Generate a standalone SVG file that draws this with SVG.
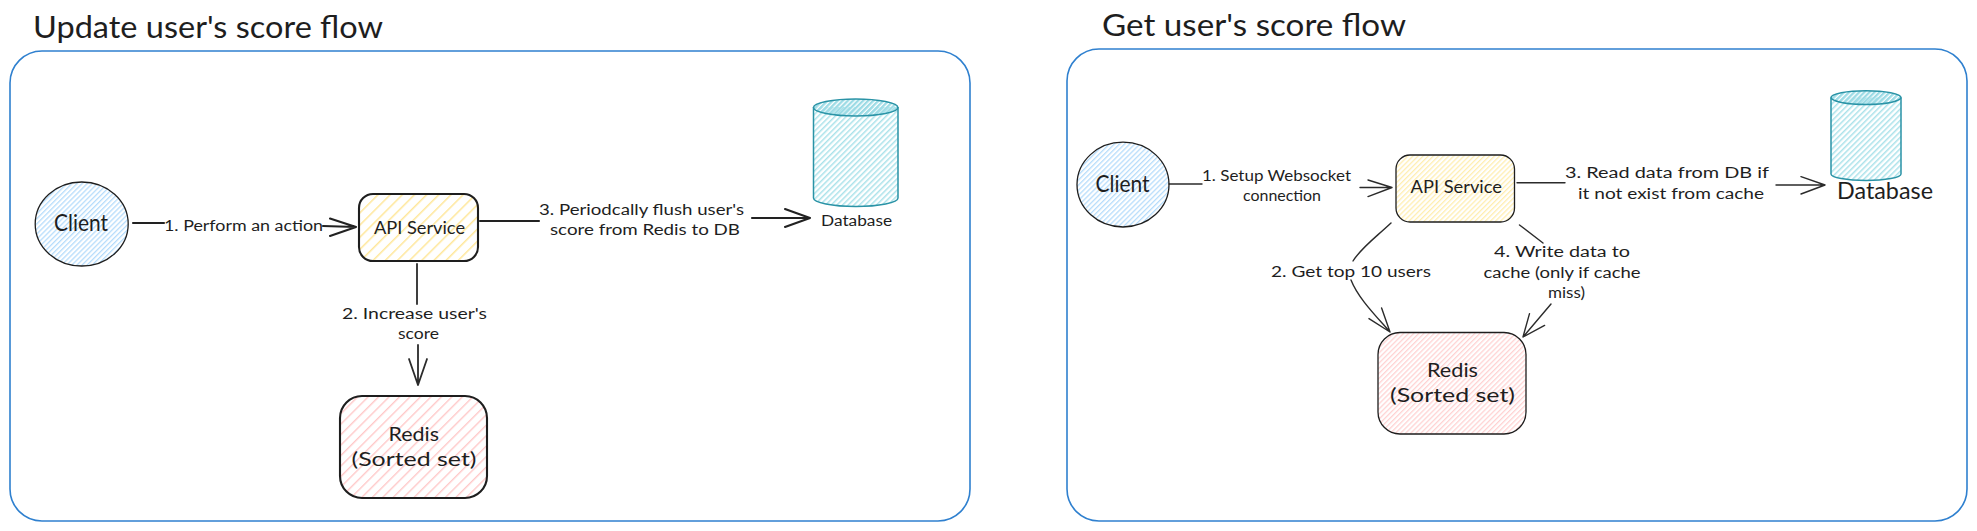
<svg xmlns="http://www.w3.org/2000/svg" width="1977" height="531" viewBox="0 0 1977 531">
<style>
text{font-family:"Lato","Open Sans","Liberation Sans",sans-serif;fill:#1e1e1e}
.t{font-size:30px}.l{font-size:15.5px}.n{font-size:23px}.r{font-size:20px}.a{font-size:17px}
.f{fill:none;stroke:#2f80cf;stroke-width:1.6}
.c{fill:none;stroke:#2b2b2b;stroke-width:1.4;stroke-linecap:round;stroke-linejoin:round}
.c1{fill:none;stroke:#2b2b2b;stroke-width:1.8;stroke-linecap:round;stroke-linejoin:round}
.c2{fill:none;stroke:#222;stroke-width:2.1;stroke-linecap:round;stroke-linejoin:round}
.o{stroke:#1e1e1e;stroke-width:1.3}
.o2{stroke:#1e1e1e;stroke-width:2.1}
.d{stroke:#2a93a6;stroke-width:1.5}
</style>
<defs>
<pattern id="hb" width="3.6" height="3.6" patternUnits="userSpaceOnUse" patternTransform="rotate(45)"><rect width="1.3" height="3.6" fill="#b5dcfb"/></pattern>
<pattern id="hyw" width="8.6" height="8.6" patternUnits="userSpaceOnUse" patternTransform="rotate(45)"><rect width="1.5" height="8.6" fill="#ffe79a"/></pattern>
<pattern id="hy" width="3.6" height="3.6" patternUnits="userSpaceOnUse" patternTransform="rotate(45)"><rect width="1.3" height="3.6" fill="#ffeeb0"/></pattern>
<pattern id="hrw" width="7.4" height="7.4" patternUnits="userSpaceOnUse" patternTransform="rotate(45)"><rect width="1.4" height="7.4" fill="#ffc9c9"/></pattern>
<pattern id="hr" width="3.6" height="3.6" patternUnits="userSpaceOnUse" patternTransform="rotate(45)"><rect width="1.3" height="3.6" fill="#ffd2d2"/></pattern>
<pattern id="hd" width="4" height="4" patternUnits="userSpaceOnUse" patternTransform="rotate(45)"><rect width="1.5" height="4" fill="#aae2ea"/></pattern>
<pattern id="hdt" width="3.6" height="3.6" patternUnits="userSpaceOnUse" patternTransform="rotate(45)"><rect width="2.3" height="3.6" fill="#9cdbe5"/></pattern>
</defs>
<rect width="1977" height="531" fill="#fff"/>
<text id="title-update" class="t" x="33" y="38" textLength="350" lengthAdjust="spacingAndGlyphs">Update user's score flow</text>
<text id="title-get" class="t" x="1102" y="36" textLength="304" lengthAdjust="spacingAndGlyphs">Get user's score flow</text>
<g id="frame-update"><rect class="f" x="10" y="51" width="960" height="470" rx="32"/></g>
<g id="frame-get"><rect class="f" x="1067" y="49" width="900" height="472" rx="32"/></g>

<g id="connectors">
<path class="c2" d="M133 223H164M323 226L356 227M330 218.6L356 227L330 236"/>
<path class="c1" d="M417 264V304M418 345V385M409 359L418 385L427 359"/>
<path class="c2" d="M480 221H539M752 218H810M785 209L810 218L785 227"/>
<path class="c" d="M1169 184H1202M1360 187.5H1392M1368 180L1392 187.5L1368 196.6"/>
<path class="c" d="M1517 182.7H1565M1776 185H1825M1801 176.6L1825 185L1801 194"/>
<path class="c" d="M1391 223C1375 238 1361 248 1353 261M1351 280C1358 298 1376 316 1390 332M1369 318.6L1390 332L1381.6 308"/>
<path class="c" d="M1519.5 225L1543 243M1551 304L1523 337M1529.5 313.6L1523 337L1544.6 325.4"/>
</g>

<g id="connector-labels">
<text class="l" x="164" y="231" textLength="159" lengthAdjust="spacingAndGlyphs">1. Perform an action</text>
<text class="l" x="342" y="319" textLength="145" lengthAdjust="spacingAndGlyphs">2. Increase user's</text>
<text class="l" x="398" y="339" textLength="41" lengthAdjust="spacingAndGlyphs">score</text>
<text class="l" x="539" y="215" textLength="205" lengthAdjust="spacingAndGlyphs">3. Periodcally flush user's</text>
<text class="l" x="550" y="235" textLength="190" lengthAdjust="spacingAndGlyphs">score from Redis to DB</text>
<text class="l" x="1202" y="181" textLength="149" lengthAdjust="spacingAndGlyphs">1. Setup Websocket</text>
<text class="l" x="1243" y="201" textLength="78" lengthAdjust="spacingAndGlyphs">connection</text>
<text class="l" x="1271" y="277" textLength="160" lengthAdjust="spacingAndGlyphs">2. Get top 10 users</text>
<text class="l" x="1565" y="178" textLength="204" lengthAdjust="spacingAndGlyphs">3. Read data from DB if</text>
<text class="l" x="1578" y="199" textLength="186" lengthAdjust="spacingAndGlyphs">it not exist from cache</text>
<text class="l" x="1494" y="257" textLength="136" lengthAdjust="spacingAndGlyphs">4. Write data to</text>
<text class="l" x="1483.5" y="278" textLength="157" lengthAdjust="spacingAndGlyphs">cache (only if cache</text>
<text class="l" x="1548" y="298" textLength="37" lengthAdjust="spacingAndGlyphs">miss)</text>
</g>

<g id="client-update">
<ellipse class="o" cx="81.7" cy="224" rx="46.5" ry="42" fill="url(#hb)"/>
<text class="n" x="54" y="231" textLength="54" lengthAdjust="spacingAndGlyphs">Client</text>
</g>
<g id="api-update">
<rect class="o2" x="359" y="194" width="119" height="67" rx="14" fill="url(#hyw)"/>
<text class="a" x="374" y="234" textLength="91" lengthAdjust="spacingAndGlyphs">API Service</text>
</g>
<g id="redis-update">
<rect class="o2" x="340" y="396" width="147" height="102" rx="22" fill="url(#hrw)"/>
<text class="r" x="388.5" y="441" textLength="50.5" lengthAdjust="spacingAndGlyphs">Redis</text>
<text class="r" x="351.5" y="466" textLength="125" lengthAdjust="spacingAndGlyphs">(Sorted set)</text>
</g>
<g id="database-update">
<path class="d" d="M813.5 107V198A42.2 8.5 0 0 0 898 198V107" fill="url(#hd)"/>
<ellipse class="d" cx="855.7" cy="107.5" rx="42.2" ry="8.5" fill="url(#hdt)"/>
<text class="l" x="821" y="226" textLength="71" lengthAdjust="spacingAndGlyphs">Database</text>
</g>

<g id="client-get">
<ellipse class="o" cx="1123" cy="184.6" rx="46" ry="42.4" fill="url(#hb)"/>
<text class="n" x="1095.6" y="192" textLength="54" lengthAdjust="spacingAndGlyphs">Client</text>
</g>
<g id="api-get">
<rect class="o" x="1396" y="155" width="118.5" height="67" rx="14" fill="url(#hy)"/>
<text class="a" x="1410.5" y="193" textLength="91.5" lengthAdjust="spacingAndGlyphs">API Service</text>
</g>
<g id="redis-get">
<rect class="o" x="1378" y="332.5" width="148" height="101.5" rx="22" fill="url(#hr)"/>
<text class="r" x="1427" y="377" textLength="51" lengthAdjust="spacingAndGlyphs">Redis</text>
<text class="r" x="1390" y="402" textLength="125" lengthAdjust="spacingAndGlyphs">(Sorted set)</text>
</g>
<g id="database-get">
<path class="d" d="M1831 97.6V174A35 6.5 0 0 0 1901 174V97.6" fill="url(#hd)"/>
<ellipse class="d" cx="1866" cy="97.6" rx="35" ry="6.8" fill="url(#hdt)"/>
<text class="n" x="1837" y="198.5" textLength="96" lengthAdjust="spacingAndGlyphs">Database</text>
</g>
</svg>
